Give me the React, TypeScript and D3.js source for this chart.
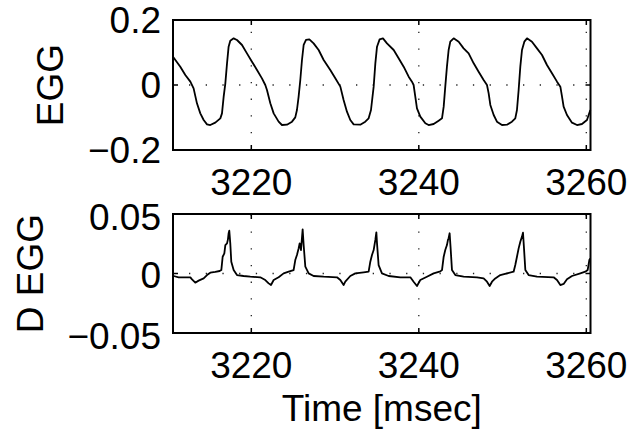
import React from "react";
import * as d3 from "d3";

// EGG trace (time in msec, amplitude)
const eggTime = [
  3210.65, 3211.52, 3212.12, 3212.72, 3213.11, 3213.51, 3213.91, 3214.31, 3214.71, 3215.1,
  3215.7, 3216.3, 3216.5, 3216.7, 3216.9, 3217.1, 3217.29, 3217.49, 3217.89, 3218.29,
  3218.89, 3219.48, 3220.08, 3220.68, 3221.27, 3221.67, 3221.87, 3222.27, 3222.67, 3223.26,
  3223.66, 3224.26, 3224.86, 3225.25, 3225.45, 3225.65, 3225.85, 3226.05, 3226.25, 3226.53,
  3226.93, 3227.44, 3228.04, 3228.64, 3229.43, 3230.03, 3230.63, 3231.02, 3231.42, 3231.82,
  3232.22, 3233.01, 3233.61, 3234.01, 3234.29, 3234.61, 3234.81, 3235.01, 3235.32, 3235.72,
  3236.2, 3237.0, 3237.59, 3238.19, 3238.79, 3239.18, 3239.38, 3239.58, 3239.78, 3240.18,
  3240.78, 3241.17, 3241.77, 3242.37, 3242.77, 3242.97, 3243.16, 3243.36, 3243.56, 3243.76,
  3244.16, 3244.76, 3245.35, 3245.95, 3246.55, 3247.14, 3247.74, 3248.14, 3248.34, 3248.54,
  3248.94, 3249.33, 3249.93, 3250.53, 3251.12, 3251.52, 3251.72, 3251.92, 3252.12, 3252.32,
  3252.6, 3252.92, 3253.51, 3254.11, 3254.71, 3255.3, 3255.9, 3256.5, 3256.9, 3257.1,
  3257.29, 3257.69, 3258.29, 3258.89, 3259.48, 3260.08, 3260.28, 3260.48,
];
const eggValue = [
  0.0872, 0.0564, 0.0308, 0.0103, -0.0103, -0.0564, -0.0872, -0.1077, -0.121, -0.1231,
  -0.1159, -0.1026, -0.0872, -0.0359, 0.0051, 0.0667, 0.1179, 0.1364, 0.1436, 0.1385,
  0.1231, 0.0974, 0.0718, 0.0462, 0.0205, 0.0, -0.0154, -0.0564, -0.0872, -0.1128,
  -0.1231, -0.1221, -0.1128, -0.0995, -0.0769, -0.0359, 0.0154, 0.0769, 0.1231, 0.1385,
  0.1405, 0.1282, 0.1077, 0.0769, 0.0462, 0.0205, -0.0051, -0.0462, -0.0821, -0.1077,
  -0.121, -0.1221, -0.1128, -0.1026, -0.0769, -0.0051, 0.0667, 0.1179, 0.1405, 0.1436,
  0.1282, 0.1077, 0.0821, 0.0564, 0.0256, 0.0103, 0.0, -0.0359, -0.0718, -0.0974,
  -0.1179, -0.1231, -0.12, -0.1097, -0.1026, -0.0667, -0.0051, 0.0564, 0.1077, 0.1333,
  0.1436, 0.1333, 0.1128, 0.0974, 0.0667, 0.041, 0.0154, 0.0, -0.0256, -0.0615,
  -0.0923, -0.1128, -0.1231, -0.1221, -0.1128, -0.1026, -0.0769, -0.0154, 0.0564, 0.1077,
  0.1333, 0.1436, 0.1333, 0.1128, 0.0923, 0.0615, 0.0359, 0.0103, -0.0051, -0.0359,
  -0.0667, -0.0923, -0.1159, -0.1231, -0.12, -0.1077, -0.0923, -0.0769,
];

// derivative of EGG
const degTime = [
  3210.73, 3211.32, 3212.72, 3212.92, 3213.31, 3213.71, 3214.31, 3214.71, 3215.1, 3215.7,
  3216.22, 3216.42, 3216.58, 3216.78, 3216.9, 3217.1, 3217.21, 3217.29, 3217.37, 3217.49,
  3217.61, 3217.89, 3218.29, 3219.08, 3219.88, 3221.07, 3221.67, 3222.07, 3222.35, 3222.67,
  3223.26, 3223.86, 3224.46, 3225.05, 3225.25, 3225.45, 3225.65, 3225.77, 3225.93, 3226.13,
  3226.25, 3226.45, 3226.85, 3227.44, 3228.64, 3230.23, 3230.63, 3231.02, 3231.22, 3231.82,
  3232.42, 3233.41, 3234.01, 3234.21, 3234.41, 3234.61, 3234.81, 3234.93, 3235.01, 3235.2,
  3235.6, 3236.4, 3237.79, 3238.99, 3239.38, 3239.78, 3240.18, 3240.97, 3241.77, 3242.57,
  3242.77, 3242.97, 3243.16, 3243.36, 3243.48, 3243.56, 3243.68, 3243.8, 3243.96, 3244.36,
  3245.35, 3246.95, 3247.74, 3248.14, 3248.46, 3248.74, 3249.13, 3249.73, 3250.53, 3251.32,
  3251.52, 3251.72, 3251.92, 3252.12, 3252.32, 3252.44, 3252.56, 3252.72, 3253.11, 3254.11,
  3256.1, 3256.5, 3256.9, 3257.29, 3257.69, 3258.29, 3259.28, 3259.88, 3260.16, 3260.36,
  3260.48,
];
const degValue = [
  -0.0021, -0.0032, -0.0032, -0.0049, -0.0077, -0.006, -0.0041, -0.0013, 0.0007, 0.0013,
  0.0021, 0.0029, 0.0141, 0.0169, 0.0239, 0.0253, 0.0287, 0.0338, 0.036, 0.0253,
  0.0099, 0.0029, -0.0013, -0.0021, -0.0027, -0.0032, -0.0055, -0.0083, -0.0097, -0.0055,
  -0.0032, 0.0001, 0.0015, 0.0029, 0.0113, 0.0155, 0.0211, 0.0253, 0.0197, 0.0371,
  0.0239, 0.0057, 0.0001, -0.0021, -0.0027, -0.0032, -0.0055, -0.0097, -0.0069, -0.0021,
  0.0001, 0.001, 0.0015, 0.0099, 0.0155, 0.0197, 0.0282, 0.0346, 0.0253, 0.0071,
  0.0001, -0.0021, -0.0032, -0.0032, -0.0069, -0.0105, -0.0055, -0.0027, 0.0001, 0.0018,
  0.0029, 0.0141, 0.0197, 0.0239, 0.0282, 0.0296, 0.0338, 0.0211, 0.0029, -0.0013,
  -0.0027, -0.0032, -0.0041, -0.0069, -0.0105, -0.0069, -0.0041, -0.0013, 0.0001, 0.0015,
  0.0071, 0.0141, 0.0211, 0.0267, 0.031, 0.0343, 0.0211, 0.0029, -0.0013, -0.0027,
  -0.0032, -0.0055, -0.0097, -0.0088, -0.0049, -0.0021, 0.0001, 0.0015, 0.0029, 0.0113,
  0.0127,
];

const xTicks = [3220, 3240, 3260];
const eggTicks = [-0.2, 0, 0.2];
const eggTickLabels = ["\u22120.2", "0", "0.2"];
const degTicks = [-0.05, 0, 0.05];
const degTickLabels = ["\u22120.05", "0", "0.05"];

const FONT = "'Liberation Sans', Arial, Helvetica, sans-serif";
const FS = 37;
const LEFT = 173;
const RIGHT = 590.5;

const x = d3.scaleLinear().domain([3210.65, 3260.5]).range([LEFT, RIGHT]);

type PanelProps = {
  top: number;
  bottom: number;
  domain: [number, number];
  ticks: number[];
  tickLabels: string[];
  times: number[];
  values: number[];
  label: string;
  labelX: number;
  labelDy: number[];
};

const Panel = ({ top, bottom, domain, ticks, tickLabels, times, values, label, labelX, labelDy }: PanelProps) => {
  const y = d3.scaleLinear().domain(domain).range([bottom, top]);
  const pts = times.map((t, i) => [t, values[i]] as [number, number]);
  const line = d3
    .line<[number, number]>()
    .x((d) => x(d[0]))
    .y((d) => y(d[1]));
  const tl = 5;
  return (
    <g>
      {/* dotted grid */}
      {xTicks.map((t) => (
        <line key={"gx" + t} x1={x(t)} x2={x(t)} y1={bottom} y2={top}
          stroke="#222" strokeWidth={1.3} strokeDasharray="1.3,15.4" />
      ))}
      <line x1={LEFT} x2={RIGHT} y1={y(0)} y2={y(0)}
        stroke="#222" strokeWidth={1.3} strokeDasharray="1.3,15.4" strokeDashoffset={-16} />
      <path d={line(pts) || ""} fill="none" stroke="#000" strokeWidth={1.8} strokeLinejoin="round" />
      {/* ticks */}
      {xTicks.map((t) => (
        <g key={"tx" + t}>
          <line x1={x(t)} x2={x(t)} y1={bottom} y2={bottom - tl} stroke="#000" strokeWidth={1.5} />
          <line x1={x(t)} x2={x(t)} y1={top} y2={top + tl} stroke="#000" strokeWidth={1.5} />
          <text x={x(t)} y={bottom + 45} textAnchor="middle" fontFamily={FONT} fontSize={FS}>{t}</text>
        </g>
      ))}
      {ticks.map((v, i) => (
        <g key={"ty" + v}>
          <line x1={LEFT} x2={LEFT + tl} y1={y(v)} y2={y(v)} stroke="#000" strokeWidth={1.5} />
          <line x1={RIGHT} x2={RIGHT - tl} y1={y(v)} y2={y(v)} stroke="#000" strokeWidth={1.5} />
          <text x={161} y={y(v) + 13 + labelDy[i]} textAnchor="end" fontFamily={FONT} fontSize={FS}>{tickLabels[i]}</text>
        </g>
      ))}
      <rect x={LEFT} y={top} width={RIGHT - LEFT} height={bottom - top} fill="none" stroke="#000" strokeWidth={2} />
      <text transform={`translate(${labelX},${(top + bottom) / 2}) rotate(-90)`} textAnchor="middle"
        fontFamily={FONT} fontSize={FS}>{label}</text>
    </g>
  );
};

export default function App() {
  return (
    <svg width={632} height={431} style={{ position: "absolute", left: 0, top: 0, background: "#fff" }}>
      <rect width={632} height={431} fill="#fff" />
      <Panel top={20} bottom={150} domain={[-0.2, 0.2]} ticks={eggTicks} tickLabels={eggTickLabels}
        times={eggTime} values={eggValue} label="EGG" labelX={63} labelDy={[0, 0, 0]} />
      <Panel top={214} bottom={333} domain={[-0.05, 0.05]} ticks={degTicks} tickLabels={degTickLabels}
        times={degTime} values={degValue} label="D EGG" labelX={43} labelDy={[3, 1, 3]} />
      <text x={(LEFT + RIGHT) / 2} y={421} textAnchor="middle" fontFamily={FONT} fontSize={FS}>Time [msec]</text>
    </svg>
  );
}
